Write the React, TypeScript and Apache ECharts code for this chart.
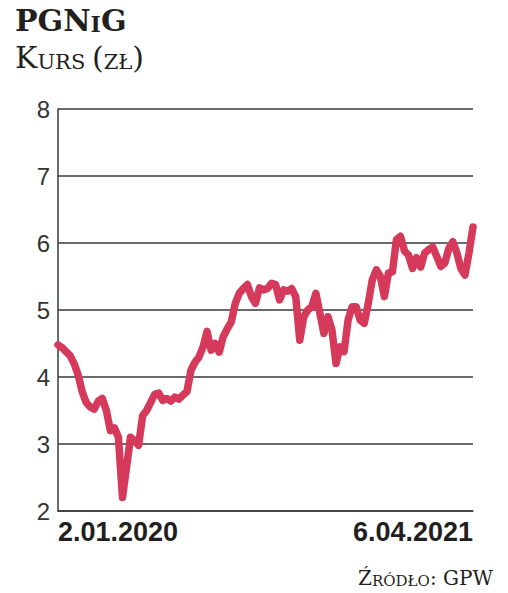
import React, { useEffect, useRef } from "react";
import * as echarts from "echarts";

const xLabels = ["2.01.2020", "6.04.2021"];
const yTicks = [2, 3, 4, 5, 6, 7, 8];
const prices = [
  4.48, 4.44, 4.38, 4.32, 4.2, 4.03, 3.78, 3.62, 3.55, 3.52,
  3.64, 3.68, 3.5, 3.2, 3.24, 3.1, 2.2, 2.65, 3.1, 3.05,
  2.98, 3.42, 3.5, 3.62, 3.74, 3.76, 3.65, 3.68, 3.64, 3.7,
  3.67, 3.73, 3.78, 4.1, 4.22, 4.3, 4.45, 4.68, 4.4, 4.5,
  4.37, 4.6, 4.72, 4.82, 5.1, 5.25, 5.32, 5.38, 5.2, 5.1,
  5.33, 5.3, 5.32, 5.4, 5.38, 5.15, 5.3, 5.28, 5.32, 5.2,
  4.55, 4.9, 5.0, 5.05, 5.25, 4.95, 4.65, 4.9, 4.7, 4.2,
  4.45, 4.38, 4.85, 5.05, 5.05, 4.85, 4.8, 5.1, 5.45, 5.6,
  5.5, 5.2, 5.55, 5.57, 6.05, 6.1, 5.88, 5.82, 5.62, 5.78,
  5.64, 5.85, 5.9, 5.94, 5.8, 5.65, 5.7, 5.92, 6.02, 5.85,
  5.62, 5.52, 5.85, 6.24,
];

const TEXT = "#231f20";
const GRID = "#3a3a3a";
const LINE = "#d63a5b";
const SERIF = "'DejaVu Serif', 'Liberation Serif', serif";
const SANS = "Liberation Sans";

export default function App() {
  const ref = useRef<HTMLDivElement>(null);
  useEffect(() => {
    if (!ref.current) return;
    const chart = echarts.init(ref.current, undefined, { renderer: "svg" });
    const n = prices.length;
    const categories = prices.map((_, i) =>
      i === 0 ? xLabels[0] : i === n - 1 ? xLabels[1] : ""
    );
    const tok = (fs: number, bold = false) => ({
      fontFamily: SERIF,
      fontSize: fs,
      fontWeight: bold ? "bold" : "normal",
      fill: TEXT,
      lineHeight: fs * 0.7,
      verticalAlign: "bottom",
    });
    chart.setOption({
      animation: false,
      backgroundColor: "#ffffff",
      grid: { left: 58, right: 35, top: 109, bottom: 82 },
      xAxis: {
        type: "category",
        data: categories,
        boundaryGap: false,
        axisTick: { show: false },
        axisLine: { show: true, lineStyle: { color: GRID, width: 1.5 } },
        axisLabel: {
          interval: 0,
          margin: 7,
          color: TEXT,
          fontFamily: SANS,
          fontWeight: "bold",
          fontSize: 27,
          alignMinLabel: "left",
          alignMaxLabel: "right",
        },
        splitLine: { show: false },
      },
      yAxis: {
        type: "value",
        min: yTicks[0],
        max: yTicks[yTicks.length - 1],
        interval: 1,
        axisTick: { show: false },
        axisLine: { show: true, lineStyle: { color: GRID, width: 1.5 } },
        axisLabel: {
          margin: 8,
          color: "#333333",
          fontFamily: SANS,
          fontSize: 24,
        },
        splitLine: { show: true, lineStyle: { color: GRID, width: 1.5 } },
      },
      series: [
        {
          type: "line",
          data: prices,
          symbol: "none",
          smooth: false,
          lineStyle: { color: LINE, width: 7.5, cap: "round", join: "round" },
          z: 5,
        },
      ],
      graphic: [
        {
          type: "text",
          left: 15,
          top: 5,
          style: {
            text: "{b|PGN}{s|I}{b|G}",
            rich: { b: tok(30, true), s: tok(22, true) },
          },
        },
        {
          type: "text",
          left: 15,
          top: 42,
          style: {
            text: "{b|K}{s|URS}  {b|(}{s|ZŁ}{b|)}",
            rich: { b: tok(30), s: tok(21) },
          },
        },
        {
          type: "text",
          right: 15,
          top: 568,
          style: {
            text: "{b|Ź}{s|RÓDŁO}{b|: GPW}",
            rich: { b: tok(20), s: tok(15) },
          },
        },
      ],
    });
    return () => chart.dispose();
  }, []);
  return <div ref={ref} style={{ width: 508, height: 593, position: "absolute", left: 0, top: 0 }} />;
}
